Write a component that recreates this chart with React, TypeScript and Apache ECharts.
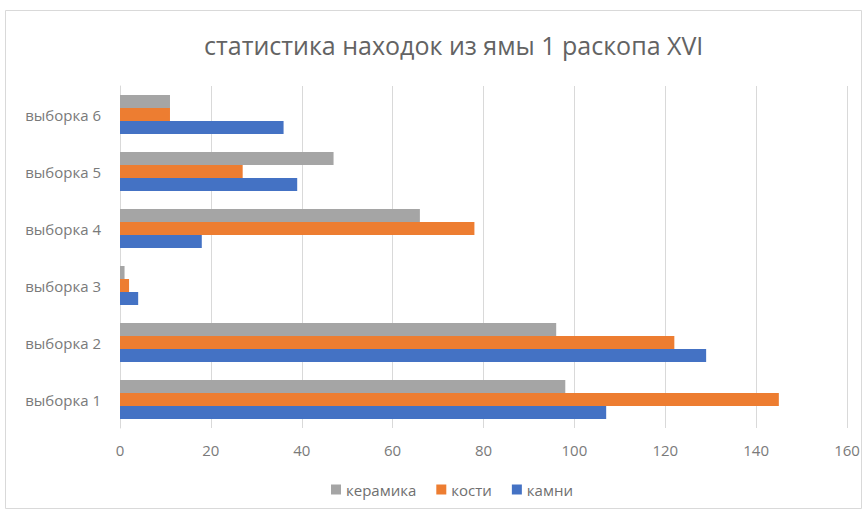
import React, { useEffect, useRef } from "react";
import * as echarts from "echarts";

const categories = ["выборка 1", "выборка 2", "выборка 3", "выборка 4", "выборка 5", "выборка 6"];
const keramika = [98, 96, 1, 66, 47, 11];
const kosti = [145, 122, 2, 78, 27, 11];
const kamni = [107, 129, 4, 18, 39, 36];
const xTicks = { min: 0, max: 160, interval: 20 };

export default function App() {
  const ref = useRef<HTMLDivElement>(null);
  useEffect(() => {
    const chart = echarts.init(ref.current!, undefined, { renderer: "svg" });
    const font = "'Open Sans', sans-serif";
    chart.setOption({
      animation: false,
      backgroundColor: "#ffffff",
      graphic: [
        {
          type: "rect",
          shape: { x: 5.5, y: 10.5, width: 856, height: 498 },
          style: { fill: "none", stroke: "#d9d9d9", lineWidth: 1 },
          silent: true,
        },
      ],
      title: {
        text: "статистика находок из ямы 1 раскопа XVI",
        left: 199,
        top: 27,
        textStyle: { fontFamily: font, fontSize: 25, fontWeight: "normal", color: "#636363" },
      },
      legend: {
        data: ["керамика", "кости", "камни"],
        bottom: 12,
        left: 326,
        itemWidth: 10,
        itemHeight: 10,
        itemGap: 20,
        icon: "rect",
        textStyle: { fontFamily: font, fontSize: 15, color: "#6f6f6f" },
      },
      grid: { left: 120, right: 20, top: 86, bottom: 86, containLabel: false },
      xAxis: {
        type: "value",
        min: xTicks.min,
        max: xTicks.max,
        interval: xTicks.interval,
        axisLine: { show: false },
        axisTick: { show: false },
        splitLine: { lineStyle: { color: "#d9d9d9" } },
        axisLabel: { fontFamily: font, fontSize: 15, color: "#7a7a7a", margin: 14 },
      },
      yAxis: {
        type: "category",
        data: categories,
        axisLine: { show: true, lineStyle: { color: "#d9d9d9" } },
        axisTick: { show: false },
        axisLabel: { fontFamily: font, fontSize: 15, color: "#7a7a7a", margin: 19 },
      },
      series: [
        { name: "керамика", type: "bar", data: keramika, barWidth: 13, barGap: "0%", itemStyle: { color: "#a5a5a5" } },
        { name: "кости", type: "bar", data: kosti, barWidth: 13, barGap: "0%", itemStyle: { color: "#ed7d31" } },
        { name: "камни", type: "bar", data: kamni, barWidth: 13, barGap: "0%", itemStyle: { color: "#4472c4" } },
      ],
    });
    return () => chart.dispose();
  }, []);
  return (
    <div
      ref={ref}
      style={{ position: "fixed", left: 0, top: 0, width: 867, height: 514 }}
    />
  );
}
